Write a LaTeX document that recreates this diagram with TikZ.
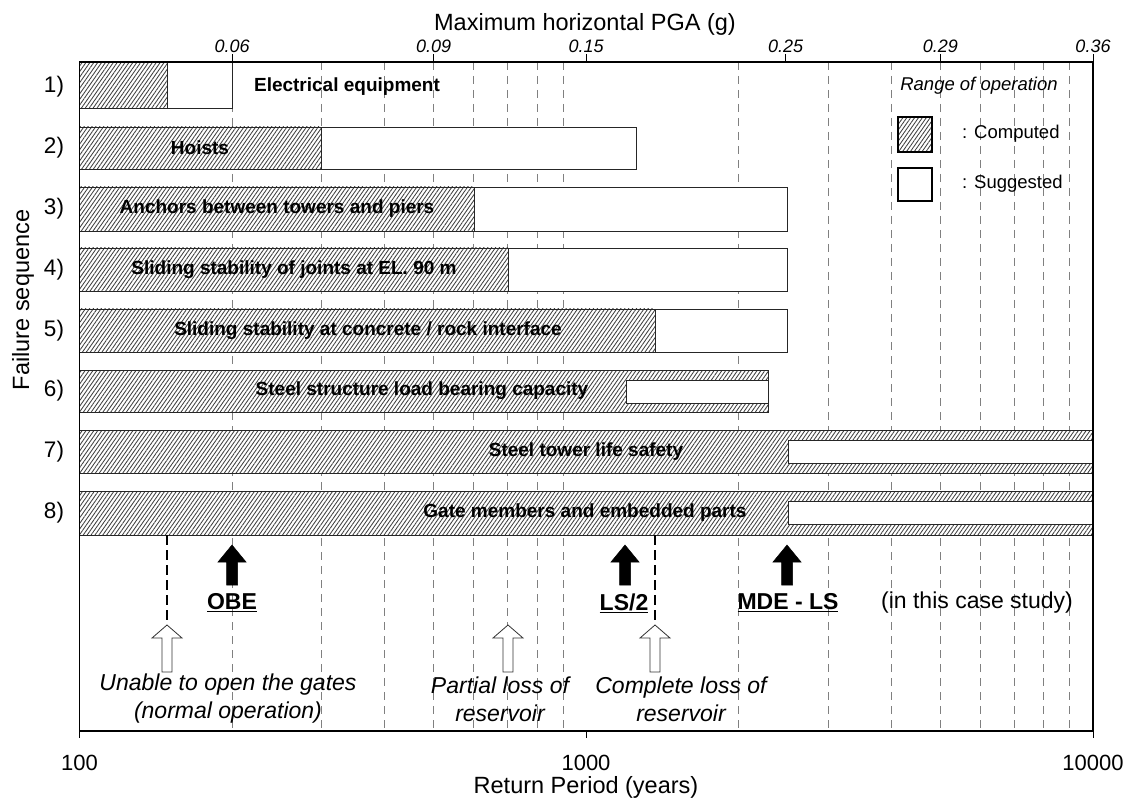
\documentclass[tikz,border=0pt]{standalone}
\usepackage{fontspec}
\setmainfont{Liberation Sans}
\usetikzlibrary{patterns.meta}

\tikzset{
  hatch/.style={preaction={fill=white},
    pattern={Lines[angle=55,distance=3.2pt,line width=0.85pt]},
    pattern color=black!75},
  barbox/.style={draw=black!85, line width=0.8pt},
  gridline/.style={draw=black!50, line width=0.8pt, dash pattern=on 8pt off 6pt},
  markline/.style={draw=black, line width=1.5pt, dash pattern=on 10pt off 5pt},
  frameline/.style={draw=black, line width=1.6pt},
  barlabel/.style={font=\fontsize{19}{21}\selectfont\bfseries, inner sep=0pt},
  rowlabel/.style={font=\fontsize{22.5}{24}\selectfont, inner sep=0pt},
  toplabel/.style={font=\fontsize{18}{20}\selectfont\itshape, inner sep=0pt},
  axistitle/.style={font=\fontsize{23.5}{26}\selectfont, inner sep=0pt},
  botlabel/.style={font=\fontsize{22}{24}\selectfont, inner sep=0pt},
  eventlabel/.style={font=\fontsize{23}{28}\selectfont\itshape, inner sep=0pt, align=center},
  levellabel/.style={font=\fontsize{23}{25}\selectfont\bfseries, inner sep=0pt},
  legendtext/.style={font=\fontsize{18.5}{20}\selectfont, inner sep=0pt},
  legendbox/.style={draw=black, line width=2pt},
  solidarrow/.style={fill=black, draw=black, line width=0.5pt},
  hollowarrow/.style={fill=white, draw=black!80, line width=0.8pt},
}

% x position of a return period (years) on the log axis
\newcommand\rpx[1]{\pgfmathsetmacro\gx{79.5+506.75*(log10(#1)-2)}}

\begin{document}
\begin{tikzpicture}[x=1pt,y=-1pt]
\useasboundingbox (0,0) rectangle (1134,799);

% vertical dashed grid
\foreach \t in {200,300,...,900}{
  \rpx{\t}
  \draw[gridline] (\gx,62) -- (\gx,731);
}
\foreach \t in {2000,3000,...,9000}{
  \rpx{\t}
  \draw[gridline] (\gx,62) -- (\gx,731);
}

% bars 1) to 5): computed (hatched) part followed by suggested (white) part
% {row top / row bottom / end of computed / end of suggested}
\foreach \top/\bot/\xh/\xw in {62/108/167/232, 127/169/321/636,
    187/231/474/787, 248/291/508/787, 309/352/655/787}{
  \path[hatch] (79.5,\top) rectangle (\xh,\bot);
  \draw[barbox, fill=white] (\xh,\top) rectangle (\xw,\bot);
  \draw[barbox] (79.5,\top) rectangle (\xw,\bot);
}

% bar 6): hatched bar with an inset suggested range
\draw[barbox, hatch] (79.5,370) rectangle (768,412);
\draw[barbox, fill=white] (626,380) rectangle (768,403);

% bars 7) and 8): hatched across the whole axis, inset suggested range
\draw[barbox, hatch] (79.5,430) rectangle (1093,473);
\draw[barbox, fill=white] (788,440) rectangle (1093,463);
\draw[barbox, hatch] (79.5,491) rectangle (1093,535);
\draw[barbox, fill=white] (788,501) rectangle (1093,524);

% bar captions
\node[barlabel] (b1) at (347,87)  {Electrical equipment};
\node[barlabel] (b2) at (200,148) {Hoists};
\node[barlabel] (b3) at (277,209) {Anchors between towers and piers};
\node[barlabel] (b4) at (294,270) {Sliding stability of joints at EL. 90 m};
\node[barlabel] (b5) at (368,331) {Sliding stability at concrete / rock interface};
\node[barlabel] (b6) at (422,391) {Steel structure load bearing capacity};
\node[barlabel] (b7) at (586,452) {Steel tower life safety};
\node[barlabel] (b8) at (585,513) {Gate members and embedded parts};

% row numbers
\foreach \n/\y in {1/87,2/148,3/209,4/270,5/331,6/391,7/452,8/513}
  \node[rowlabel] (r\n) at (54,\y) {\n)};
\node[axistitle, rotate=90] (ytitle) at (23,300) {Failure sequence};

% legend
\node[legendtext, font=\fontsize{18.5}{20}\selectfont\itshape] (legtitle) at (979,86) {Range of operation};
\draw[legendbox, hatch] (898,117) rectangle (932,152);
\draw[legendbox, fill=white] (898,168) rectangle (932,201);
\node[legendtext, anchor=west] (legc) at (962,134) {: Computed};
\node[legendtext, anchor=west] (legs) at (962,184) {: Suggested};

% frame
\draw[frameline] (79.5,62) rectangle (1093,731);

% top axis: peak ground acceleration
\node[axistitle] (ttitle) at (585,24) {Maximum horizontal PGA (g)};
\foreach \t/\g in {200/0.06, 500/0.09, 1000/0.15, 2475/0.25, 5000/0.29, 10000/0.36}{
  \rpx{\t}
  \draw[line width=1pt] (\gx,62) -- (\gx,54);
  \node[toplabel] at (\gx,46) {\g};
}

% bottom axis: return period
\foreach \t in {100,1000,10000}{
  \rpx{\t}
  \draw[line width=1pt] (\gx,731) -- (\gx,738);
}
\node[botlabel] (x100) at (79.5,763) {100};
\node[botlabel] (x1000) at (586,763) {1000};
\node[botlabel] (x10000) at (1093,763) {10000};
\node[axistitle] (xtitle) at (586,787) {Return Period (years)};

% design levels (solid arrows)
\foreach \cx/\name in {232/obe, 625/lstwo, 787/mde}{
  \fill[solidarrow] (\cx,545) -- (\cx+14,562) -- (\cx+5.5,562) -- (\cx+5.5,585)
    -- (\cx-5.5,585) -- (\cx-5.5,562) -- (\cx-14,562) -- cycle;
  \coordinate (\name) at (\cx,585);
}
\node[levellabel] (obelbl) at (232,603) {\underline{OBE}};
\node[levellabel] (lslbl) at (624,603) {\underline{LS/2}};
\node[levellabel] (mdelbl) at (788,603) {\underline{MDE - LS}};
\node[botlabel, font=\fontsize{23}{25}\selectfont] (case) at (977,603) {(in this case study)};

% consequences (hollow arrows)
\coordinate (top150) at (167,535);
\coordinate (top1370) at (655,535);
\foreach \cx/\name in {167/tip150, 508/tip700, 655/tip1370}{
  \draw[hollowarrow] (\cx,625) -- (\cx+15,638) -- (\cx+5,638) -- (\cx+5,672)
    -- (\cx-5,672) -- (\cx-5,638) -- (\cx-15,638) -- cycle;
  \coordinate (\name) at (\cx,625);
}
\draw[markline] (top150) -- (tip150);
\draw[markline] (top1370) -- (tip1370);

\node[eventlabel] (ev1) at (228,699) {Unable to open the gates\\(normal operation)};
\node[eventlabel] (ev2) at (500,699) {Partial loss of\\reservoir};
\node[eventlabel] (ev3) at (681,699) {Complete loss of\\reservoir};

\end{tikzpicture}
\end{document}
